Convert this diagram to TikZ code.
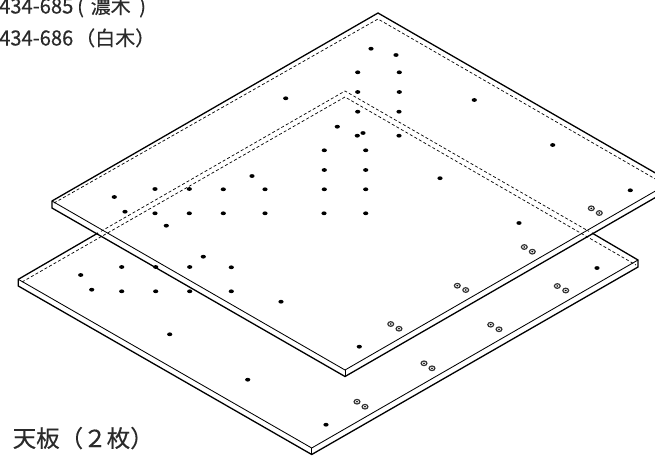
\documentclass[tikz,border=0pt]{standalone}
\usepackage{fontspec}
\newfontfamily\jp[FakeBold=0.35]{Noto Sans CJK JP}
\newfontfamily\jpd[FakeStretch=0.96,FakeBold=0.35]{Noto Sans CJK JP}
\usetikzlibrary{calc}
\definecolor{ink}{HTML}{2A2A2A}
\tikzset{
  heavy/.style={line width=1.3pt,black,line join=miter},
  light/.style={line width=0.85pt,black,line join=miter},
  hidden/.style={line width=0.7pt,black,dash pattern=on 3pt off 2.2pt},
  dotmark/.style={fill=black,draw=none},
  label/.style={inner sep=0pt,anchor=base west,text=ink},
}
\begin{document}
\begin{tikzpicture}[x=1pt,y=-1pt]
\useasboundingbox (0,0) rectangle (655,455);
\clip (0,0) rectangle (655,455);
% upper board
\coordinate (UL) at (52,201);   \coordinate (ULb) at (52,208);
\coordinate (UB) at (378,13);
\coordinate (UF) at (345,370);  \coordinate (UFb) at (345,376.5);
\coordinate (UR) at (671,182);  \coordinate (URb) at (671,188.5);
\coordinate (UBi) at (378,19);  \coordinate (ULi) at (54,203);  \coordinate (URi) at (671,188);
% lower board
\coordinate (LL) at (18.3,279.3); \coordinate (LLb) at (18.3,286);
\coordinate (LB) at (345,91);
\coordinate (LF) at (311.7,448);  \coordinate (LFb) at (311.7,454.5);
\coordinate (LR) at (638,260);    \coordinate (LRb) at (638,267);
\coordinate (LBi) at (345,97);    \coordinate (LLi) at (22,282);    \coordinate (LRi) at (636,265);
\coordinate (LXl) at (98,233);    \coordinate (LXld) at (101,231.3);
\coordinate (LXr) at (592,233);   \coordinate (LXrd) at (589,231.4);
% lower board lines
\draw[heavy] (LXl) -- (LL) -- (LLb) -- (LFb) -- (LRb) -- (LR) -- (LXr);
\draw[light] (LL) -- (LF) -- (LR);
\draw[light] (LF) -- (LFb);
\draw[hidden] (LXld) -- (LB) -- (LXrd);
\draw[hidden] (LLi) -- (LBi) -- (LRi);
% upper board lines
\draw[heavy] (UR) -- (UB) -- (UL) -- (ULb) -- (UFb) -- (URb);
\draw[light] (UL) -- (UF) -- (UR);
\draw[light] (UF) -- (UFb);
\draw[hidden] (ULi) -- (UBi) -- (URi);
% holes
\foreach \x/\y in {371/48.7,396/55,357.7/72.3,399.3/72.3,357.7/92,399.3/92,285.7/98.3,357.7/111.7,399/111.7,337.3/126.7,363/133,357.3/135.7,399/135.7,324.3/150.3,365.7/150.3,324.3/170,365.7/170,252/176,440/178.2,223.3/189.3,265/189.3,324.3/189.3,365.7/189.3,223.3/213.3,265/213.3,324/213.3,365.7/213.3,231.3/267.3,231.3/291.3,114.3/197,155/189,189.3/189,125/211.7,155/213.3,189.3/213.3,166.3/225.7,203.3/256.7,121.7/267,155.7/267,189.7/267,80.7/275,91.7/289.7,121.7/291.3,155.7/291.3,189.7/291.3,169.7/334.3,281/301.7,359.3/346.7,247.7/379.7,326/424.7,552.7/145,474.3/100,630.3/190.3,519/223,597/268}
  \fill[dotmark] (\x,\y) ellipse [x radius=2.6pt,y radius=1.9pt];
% counterbored holes
\foreach \x/\y in {390.7/324,399/328.7,424/363.3,432/368.3,357/401.7,365/406.7,591.3/208.3,599.3/213,524.3/247,532.3/251.7,457.3/285.7,465.7/290,557.3/286,565.7/290.5,490.7/324.7,499/329.3}{
  \draw[line width=1.2pt,black!80] (\x,\y) ellipse [x radius=2.9pt,y radius=2.3pt];
  \fill[dotmark] (\x,\y) ellipse [x radius=1.1pt,y radius=0.8pt];
}
% labels
\node[label] (code1) at (-1,13.5) {\fontsize{21}{21}\jpd 434-685};
\node[label] (paren1) at (77,13.5) {\fontsize{20}{20}\jp (};
\node[label] (name1) at (90.5,13.5) {\fontsize{20}{20}\jp 濃木};
\node[label] (paren1b) at (139,13.5) {\fontsize{20}{20}\jp )};
\node[label] (code2) at (-1,45.5) {\fontsize{21}{21}\jpd 434-686};
\node[label] (name2) at (75,45.5) {\fontsize{20}{20}\jp （白木）};
\node[label] (title) at (12.5,447) {\fontsize{23.5}{23.5}\jp 天板（２枚）};
\end{tikzpicture}
\end{document}
